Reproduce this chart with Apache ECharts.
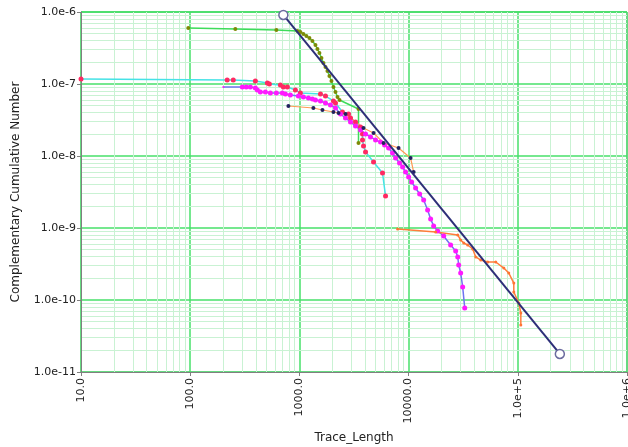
<!DOCTYPE html>
<html>
<head>
<meta charset="UTF-8">
<title>Trace length CCDF</title>
<script src="https://cdn.jsdelivr.net/npm/echarts@6.0.0/dist/echarts.min.js"></script>
<style>
  html, body { margin: 0; padding: 0; background: #fff; }
  #main { width: 628px; height: 447px; }
</style>
</head>
<body>
<div id="main"></div>
<script type="text/javascript">
// tick labels
var xTickLabels = ['10.0', '100.0', '1000.0', '10000.0', '1.0e+5', '1.0e+6'];
var yTickLabels = ['1.0e-11', '1.0e-10', '1.0e-9', '1.0e-8', '1.0e-7', '1.0e-6'];

// minor grid lines (log positions 2..9 inside each decade)
var minorSteps = [2, 3, 4, 5, 6, 7, 8, 9];
var xDecades = [10, 100, 1000, 10000, 100000];
var yDecades = [1e-11, 1e-10, 1e-9, 1e-8, 1e-7];
var xRange = [10, 1000000];
var yRange = [1e-11, 1e-6];

// series: [trace length, complementary cumulative number]
var greenSet = [
  [96, 6.0e-7], [259, 5.81e-7], [615, 5.62e-7], [959, 5.45e-7], [1021, 5.28e-7],
  [1088, 4.95e-7], [1159, 4.64e-7], [1235, 4.35e-7], [1316, 3.96e-7], [1403, 3.48e-7],
  [1463, 3.06e-7], [1525, 2.70e-7], [1592, 2.30e-7], [1660, 1.96e-7], [1733, 1.72e-7],
  [1807, 1.52e-7], [1884, 1.29e-7], [1966, 1.10e-7], [2051, 9.08e-8], [2140, 7.74e-8],
  [2234, 6.60e-8], [2328, 6.0e-8], [3477, 4.50e-8], [3477, 1.52e-8]
];
var cyanSet = [
  [10, 1.17e-7], [218, 1.14e-7], [248, 1.14e-7], [395, 1.10e-7], [509, 1.03e-7],
  [531, 1.0e-7], [670, 9.68e-8], [713, 9.08e-8], [776, 9.08e-8], [919, 8.25e-8],
  [1021, 7.5e-8], [1560, 7.26e-8], [1733, 6.81e-8], [2051, 5.81e-8], [2140, 5.45e-8],
  [2479, 4.08e-8], [2818, 3.83e-8], [2938, 3.37e-8], [3266, 2.97e-8], [3630, 2.53e-8],
  [3785, 2.02e-8], [3785, 1.67e-8], [3864, 1.38e-8], [4034, 1.14e-8], [4775, 8.25e-9],
  [5770, 5.81e-9], [6152, 2.78e-9]
];
var magentaSet = [
  [201, 9.08e-8], [300, 9.08e-8], [326, 9.08e-8], [355, 9.08e-8], [395, 8.80e-8],
  [412, 8.25e-8], [439, 7.74e-8], [488, 7.74e-8], [542, 7.5e-8], [615, 7.5e-8],
  [698, 7.5e-8], [744, 7.26e-8], [826, 7.03e-8], [979, 6.81e-8], [1088, 6.60e-8],
  [1210, 6.39e-8], [1316, 6.19e-8], [1403, 6.0e-8], [1560, 5.81e-8], [1733, 5.45e-8],
  [1923, 5.11e-8], [2140, 4.64e-8], [2378, 3.83e-8], [2643, 3.37e-8], [2938, 2.97e-8],
  [3266, 2.61e-8], [3630, 2.30e-8], [4034, 2.02e-8], [4479, 1.84e-8], [4980, 1.67e-8],
  [5534, 1.56e-8], [6026, 1.42e-8], [6561, 1.29e-8], [7130, 1.10e-8], [7600, 9.38e-9],
  [8260, 8.0e-9], [8811, 7.03e-9], [9380, 6.0e-9], [10000, 5.11e-9], [10660, 4.35e-9],
  [11590, 3.59e-9], [12620, 2.97e-9], [13740, 2.45e-9], [14930, 1.78e-9], [15920, 1.33e-9],
  [16960, 1.07e-9], [18450, 9.08e-10], [20950, 7.74e-10], [24270, 5.81e-10], [26990, 4.79e-10],
  [28180, 3.96e-10], [28770, 3.06e-10], [29990, 2.37e-10], [31270, 1.52e-10], [32660, 7.74e-11]
];
var orangeUpperSet = [
  [793, 4.95e-8], [1343, 4.64e-8], [1626, 4.35e-8], [2051, 4.08e-8], [2280, 3.96e-8],
  [2643, 3.83e-8], [3864, 2.45e-8], [4775, 2.09e-8], [5900, 1.52e-8], [8090, 1.29e-8],
  [10427, 9.38e-9], [11117, 6.0e-9]
];
var orangeLowerSet = [
  [7925, 9.68e-10], [17700, 8.80e-10], [28180, 8.0e-10], [29990, 6.81e-10], [31990, 6.19e-10],
  [34760, 5.81e-10], [38640, 5.11e-10], [41200, 3.96e-10], [45800, 3.59e-10], [53080, 3.37e-10],
  [62800, 3.37e-10], [74460, 2.78e-10], [82660, 2.37e-10], [91920, 1.72e-10], [91920, 1.29e-10],
  [102100, 9.08e-11], [106600, 6.60e-11], [106600, 4.5e-11]
];
var fitLine = [[713, 9.1e-7], [242700, 1.78e-11]];

function decadeIndex(v, base) {
  return Math.round(Math.log(v) / Math.LN10) - base;
}

// minor grid as markLine segments spanning the plot
var minorLines = [];
xDecades.forEach(function (d) {
  minorSteps.forEach(function (m) {
    minorLines.push([{ coord: [d * m, yRange[0]] }, { coord: [d * m, yRange[1]] }]);
  });
});
yDecades.forEach(function (d) {
  minorSteps.forEach(function (m) {
    minorLines.push([{ coord: [xRange[0], d * m] }, { coord: [xRange[1], d * m] }]);
  });
});

var fontFamily = 'DejaVu Sans';

var option = {
  animation: false,
  backgroundColor: '#ffffff',
  grid: {
    left: 81, right: 1, top: 12, bottom: 75,
    outerBoundsMode: 'none',
    containLabel: false,
    show: true, borderColor: '#8a8a8a', borderWidth: 1,
    backgroundColor: '#ffffff'
  },
  xAxis: {
    type: 'log', logBase: 10, min: xRange[0], max: xRange[1], splitNumber: 5,
    name: 'Trace_Length', nameLocation: 'middle', nameGap: 57,
    nameTextStyle: { fontFamily: fontFamily, fontSize: 12, color: '#222' },
    axisLine: { lineStyle: { color: '#808080' } },
    axisTick: { show: true, length: 4, lineStyle: { color: '#808080' } },
    axisLabel: {
      rotate: 90, margin: 6, fontFamily: fontFamily, fontSize: 11, color: '#222',
      hideOverlap: false, showMaxLabel: true, showMinLabel: true,
      formatter: function (v) { return xTickLabels[decadeIndex(v, 1)]; }
    },
    splitLine: { show: true, lineStyle: { color: '#47e06a', width: 1.5 } }
  },
  yAxis: {
    type: 'log', logBase: 10, min: yRange[0], max: yRange[1], splitNumber: 5,
    name: 'Complementary Cumulative Number', nameLocation: 'middle', nameGap: 59,
    nameTextStyle: { fontFamily: fontFamily, fontSize: 12, color: '#222' },
    axisLine: { lineStyle: { color: '#808080' } },
    axisTick: { show: true, length: 4, lineStyle: { color: '#808080' } },
    axisLabel: {
      margin: 5, fontFamily: fontFamily, fontSize: 11, color: '#222',
      formatter: function (v) { return yTickLabels[decadeIndex(v, -11)]; }
    },
    splitLine: { show: true, lineStyle: { color: '#47e06a', width: 1.5 } }
  },
  series: [
    {
      name: 'minor grid', type: 'line', data: [], silent: true, z: 0,
      markLine: {
        silent: true, symbol: ['none', 'none'], animation: false, z: 0,
        label: { show: false },
        lineStyle: { color: '#c9f2d3', width: 1, type: 'solid' },
        emphasis: { disabled: true },
        data: minorLines
      }
    },
    {
      name: 'set 1', type: 'line', data: greenSet, z: 3,
      symbol: 'circle', symbolSize: 4,
      lineStyle: { color: '#3ddc5a', width: 1.5 },
      itemStyle: { color: '#7d8a06' }
    },
    {
      name: 'set 2', type: 'line', data: cyanSet, z: 3,
      symbol: 'circle', symbolSize: 5,
      lineStyle: { color: '#45e3e6', width: 1.5 },
      itemStyle: { color: '#ff2a62' }
    },
    {
      name: 'set 3', type: 'line', data: magentaSet, z: 3,
      symbol: 'circle',
      symbolSize: function (v, p) { return p.dataIndex === 0 ? 2 : 5; },
      lineStyle: { color: '#6f74f0', width: 1.5 },
      itemStyle: { color: '#ff19ff' }
    },
    {
      name: 'set 4', type: 'line', data: orangeUpperSet, z: 3,
      symbol: 'circle', symbolSize: 4,
      lineStyle: { color: '#ff9a55', width: 1.2 },
      itemStyle: { color: '#22225e' }
    },
    {
      name: 'set 5', type: 'line', data: orangeLowerSet, z: 3,
      symbol: 'circle', symbolSize: 3,
      lineStyle: { color: '#ff7d3a', width: 1.5 },
      itemStyle: { color: '#ff7433' }
    },
    {
      name: 'fit', type: 'line', data: fitLine, z: 4,
      symbol: 'circle', symbolSize: 9,
      lineStyle: { color: '#2d2f78', width: 2 },
      itemStyle: { color: '#ffffff', borderColor: '#6b6b9e', borderWidth: 1.5 }
    }
  ]
};

var myChart = echarts.init(document.getElementById('main'), null, { renderer: 'canvas' });
myChart.setOption(option);
</script>
</body>
</html>
